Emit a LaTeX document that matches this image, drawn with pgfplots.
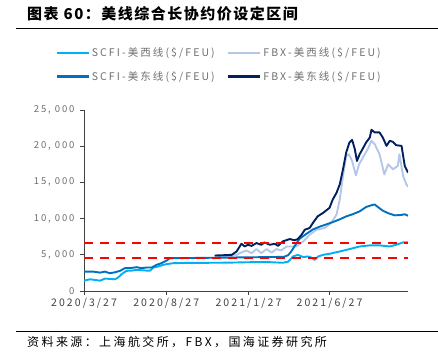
\documentclass[border=0pt]{standalone}
\usepackage{pgfplots}
\pgfplotsset{compat=1.18}
\usepackage{fontspec}
\setmainfont{Noto Sans CJK SC}
\newfontfamily\spaced[LetterSpace=20]{Noto Sans CJK SC}
\newfontfamily\titlefont[LetterSpace=10]{Noto Sans CJK SC}
\definecolor{scfiW}{RGB}{0,176,240}
\definecolor{scfiE}{RGB}{0,112,192}
\definecolor{fbxW}{RGB}{180,199,231}
\definecolor{fbxE}{RGB}{0,32,96}
\definecolor{txtgray}{RGB}{110,110,110}
\definecolor{axgray}{RGB}{64,64,64}
\begin{document}
\begin{tikzpicture}
\path[use as bounding box] (0,0) rectangle (438bp,358bp);
\node[anchor=west, inner sep=0pt] at (27bp,344bp) {\titlefont\fontsize{15bp}{17bp}\selectfont\bfseries 图表 60：美线综合长协约价设定区间};
\draw[line width=0.8bp] (16bp,330bp) -- (438bp,330bp);
\draw[line width=0.8bp] (16bp,27bp) -- (438bp,27bp);
\node[anchor=west, inner sep=0pt] at (27bp,16bp) {\spaced\fontsize{12bp}{14bp}\selectfont 资料来源：上海航交所，FBX，国海证券研究所};
\begin{axis}[
  at={(84bp,67bp)}, anchor=south west,
  scale only axis, width=324bp, height=181bp,
  xmin=0, xmax=603, ymin=0, ymax=25000,
  scaled y ticks=false,
  axis x line*=bottom, axis y line*=left,
  axis line style={-, draw=axgray, line width=0.8bp},
  tick style={draw=axgray, line width=0.8bp},
  tick align=outside, major tick length=4bp,
  xtick={0,153,306,457},
  xticklabels={2020/3/27,2020/8/27,2021/1/27,2021/6/27},
  ytick={0,5000,10000,15000,20000,25000},
  yticklabels={0,{5, 000},{10, 000},{15, 000},{20, 000},{25, 000}},
  xticklabel style={font=\spaced\fontsize{10.5bp}{12bp}\selectfont, text=axgray},
  yticklabel style={font=\spaced\fontsize{9.5bp}{11bp}\selectfont, text=txtgray, xshift=-2bp},
  legend columns=2,
  legend style={at={(-0.0895,1.355)}, anchor=north west, draw=none, fill=none,
    inner sep=0pt, row sep=9bp,
    font=\spaced\fontsize{10.5bp}{12bp}\selectfont, text=txtgray},
  legend image code/.code={\draw[#1, line width=2.6bp] (0bp,0bp) -- (32bp,0bp);},
  every axis plot/.append style={line width=1.9bp, line join=round},
]
\addplot[scfiW] coordinates {
(0,1430)(11,1620)(20,1530)(30,1430)(39,1710)(48,1670)(58,1620)(64,1900)(70,2320)
(79,2780)(89,2820)(98,2920)(107,2870)(116,2820)(123,2820)(129,3240)(138,3380)
(147,3610)(157,3750)(166,3840)(190,3880)(216,3890)(250,3900)(278,3930)(310,3980)
(340,4000)(370,3900)(380,4050)(389,4770)(398,5000)(408,4680)(417,4770)(424,4600)
(429,4310)(436,4770)(445,5000)(457,5140)(476,5460)(494,5790)(513,6150)(532,6300)
(550,6300)(569,6150)(581,6390)(594,6710)(603,6710)};
\addlegendentry{\makebox[133bp][l]{SCFI-美西线(\$/FEU)}}
\addplot[fbxW] coordinates {
(243,4800)(262,4750)(275,4850)(284,5000)(290,5230)(302,5600)(312,5230)(321,5790)
(330,5230)(340,5790)(349,5300)(358,5790)(367,5600)(377,6150)(395,6150)(408,6850)
(420,7780)(433,8470)(448,8700)(460,9400)(470,10560)(476,12640)(482,15880)(488,18650)
(493,18890)(499,17960)(506,15970)(512,17500)(519,18430)(528,19590)(535,20740)
(541,20280)(550,18890)(559,16110)(566,17500)(575,16810)(584,17270)(587,18890)
(594,15880)(600,14720)(603,14400)};
\addlegendentry{FBX-美西线(\$/FEU)}
\addplot[scfiE] coordinates {
(0,2680)(17,2680)(30,2540)(39,2680)(48,2450)(58,2590)(67,2780)(76,3150)(85,3150)
(98,3290)(107,3150)(116,3240)(126,3240)(135,3610)(144,3840)(154,4210)(160,4540)
(200,4560)(250,4600)(300,4650)(340,4680)(372,4720)(380,4950)(386,5500)(392,6200)
(401,7200)(414,7900)(426,8500)(439,8900)(451,9200)(466,9600)(476,9900)(488,10300)
(500,10600)(513,11000)(525,11600)(535,11850)(541,11950)(547,11600)(556,11100)
(566,10750)(578,10450)(590,10500)(597,10600)(603,10400)};
\addlegendentry{\makebox[133bp][l]{SCFI-美东线(\$/FEU)}}
\addplot[fbxE] coordinates {
(243,4900)(262,4950)(275,5000)(284,5460)(293,6530)(299,6150)(305,6380)(312,6230)
(321,6620)(330,6380)(336,6700)(346,6380)(355,6530)(361,6230)(370,6850)(383,7180)
(392,7000)(398,7180)(405,7780)(411,8470)(420,8700)(426,9400)(435,10320)(445,10790)
(457,11490)(463,12640)(470,13570)(476,14720)(482,16800)(488,19130)(494,20510)
(499,20880)(504,19590)(508,17960)(513,18890)(519,19680)(525,20510)(532,21210)
(535,22270)(541,21900)(550,21900)(556,21210)(563,20040)(569,20740)(575,20600)
(581,20140)(591,20040)(597,17270)(603,16350)};
\addlegendentry{FBX-美东线(\$/FEU)}
\addplot[red, line width=2.2bp, dash pattern=on 9bp off 7bp, forget plot] coordinates {(0,4550)(603,4550)};
\addplot[red, line width=2.2bp, dash pattern=on 9bp off 7bp, forget plot] coordinates {(0,6600)(603,6600)};
\end{axis}
\end{tikzpicture}
\end{document}
